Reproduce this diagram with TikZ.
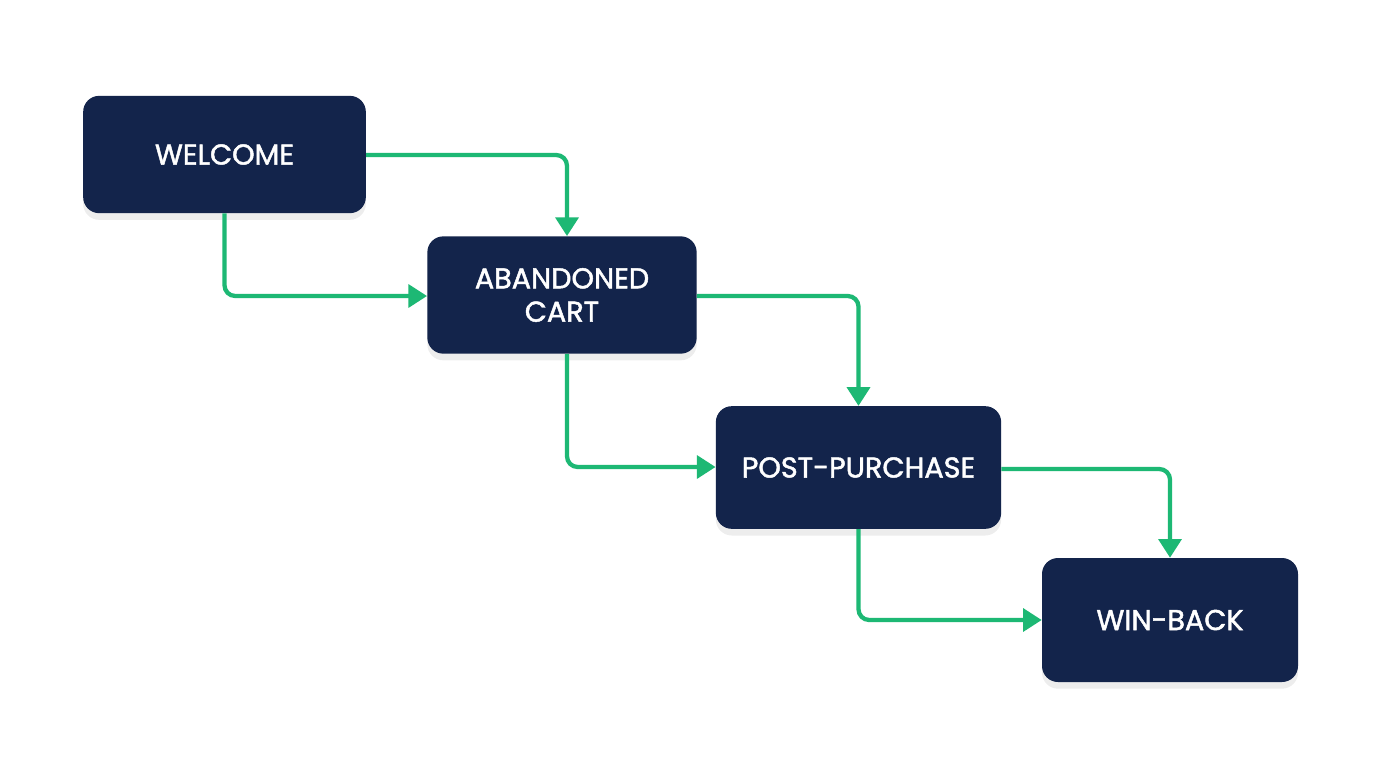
\documentclass[tikz,border=0pt]{standalone}
\usepackage{fontspec}
\setmainfont{Poppins}[FakeBold=1.6]
\usetikzlibrary{arrows.meta,shadows}
\definecolor{navy}{HTML}{13244B}
\definecolor{grn}{HTML}{1DB874}
\begin{document}
\begin{tikzpicture}[x=0.75pt,y=-0.75pt,
box/.style={fill=navy,rounded corners=12pt,text=white,align=center,font=\fontsize{21.5}{25}\selectfont,inner sep=0pt,
 drop shadow={shadow xshift=0pt,shadow yshift=-5pt,opacity=0.07,fill=black}},
arr/.style={draw=grn,line width=3.2pt,rounded corners=8pt,-{Triangle[length=14pt,width=17pt]}}]
\useasboundingbox[fill=white] (0,0) rectangle (1376,768);
\node[box,minimum width=212pt,minimum height=88pt] (w) at (224.5,154.5) {WELCOME};
\node[box,minimum width=202pt,minimum height=88pt] (a) at (562,295) {ABANDONED\\CART};
\node[box,minimum width=214pt,minimum height=92pt] (p) at (858.5,467.5) {POST-PURCHASE};
\node[box,minimum width=192pt,minimum height=93pt] (b) at (1170,620) {WIN-BACK};
\draw[arr] (w.east|-0,155) -| (a.north-|567,0);
\draw[arr] (w.south) |- (a.west|-0,296);
\draw[arr] (a.east|-0,296) -| (p.north);
\draw[arr] (a.south-|567,0) |- (p.west|-0,467);
\draw[arr] (p.east|-0,469) -| (b.north);
\draw[arr] (p.south) |- (b.west|-0,620);
\end{tikzpicture}
\end{document}
